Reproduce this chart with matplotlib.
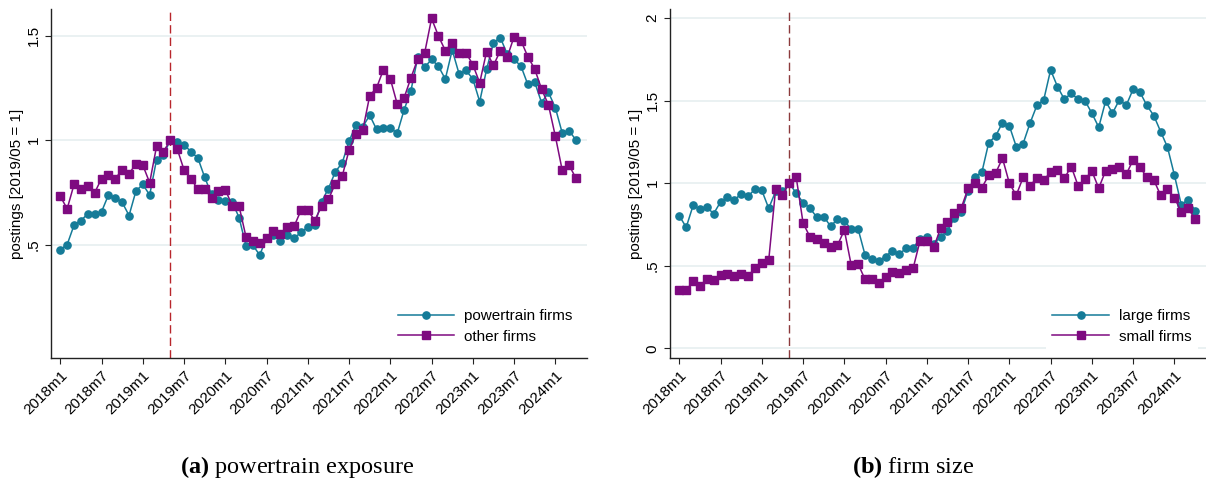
import matplotlib.pyplot as plt

plt.rcParams['font.family'] = ['Liberation Sans', 'DejaVu Sans']
plt.rcParams['mathtext.fontset'] = 'custom'
plt.rcParams['mathtext.rm'] = 'Liberation Serif'
plt.rcParams['mathtext.bf'] = 'Liberation Serif:bold'

# months since 2018m1, 2018m1 .. 2024m4
MONTHS = list(range(76))
TICK_POS = list(range(0, 73, 6))
TICK_LABELS = ["2018m1", "2018m7", "2019m1", "2019m7", "2020m1", "2020m7",
               "2021m1", "2021m7", "2022m1", "2022m7", "2023m1", "2023m7",
               "2024m1"]
BASE_MONTH = 16  # 2019m5

# panel a: powertrain exposure
POWERTRAIN = [0.476, 0.500, 0.593, 0.615, 0.647, 0.646, 0.657, 0.737, 0.723,
              0.702, 0.639, 0.756, 0.788, 0.737, 0.907, 0.928, 1.000, 0.989,
              0.978, 0.944, 0.915, 0.822, 0.740, 0.715, 0.710, 0.705, 0.629,
              0.495, 0.497, 0.450, 0.530, 0.545, 0.516, 0.546, 0.529, 0.559,
              0.583, 0.595, 0.705, 0.768, 0.848, 0.891, 0.994, 1.074, 1.064,
              1.119, 1.051, 1.059, 1.059, 1.032, 1.144, 1.237, 1.397, 1.349,
              1.386, 1.353, 1.292, 1.431, 1.317, 1.333, 1.293, 1.184, 1.338,
              1.466, 1.490, 1.412, 1.386, 1.354, 1.266, 1.277, 1.179, 1.228,
              1.155, 1.034, 1.045, 1.000]
OTHER = [0.731, 0.671, 0.788, 0.768, 0.782, 0.748, 0.816, 0.835, 0.816,
         0.857, 0.840, 0.885, 0.880, 0.796, 0.970, 0.944, 1.000, 0.958,
         0.857, 0.816, 0.764, 0.768, 0.721, 0.758, 0.763, 0.686, 0.684,
         0.538, 0.516, 0.506, 0.529, 0.566, 0.551, 0.582, 0.587, 0.663,
         0.665, 0.615, 0.683, 0.716, 0.792, 0.827, 0.952, 1.029, 1.048,
         1.212, 1.250, 1.337, 1.293, 1.173, 1.202, 1.298, 1.389, 1.418,
         1.582, 1.498, 1.428, 1.465, 1.418, 1.418, 1.361, 1.274, 1.423,
         1.357, 1.428, 1.396, 1.495, 1.476, 1.399, 1.340, 1.244, 1.168,
         1.019, 0.856, 0.880, 0.817]

# panel b: firm size
LARGE = [0.802, 0.733, 0.865, 0.844, 0.853, 0.816, 0.887, 0.915, 0.897,
         0.937, 0.921, 0.964, 0.956, 0.848, 0.950, 0.950, 1.000, 0.939,
         0.883, 0.848, 0.794, 0.798, 0.739, 0.782, 0.768, 0.725, 0.723,
         0.567, 0.539, 0.531, 0.555, 0.592, 0.569, 0.608, 0.608, 0.662,
         0.674, 0.634, 0.674, 0.713, 0.790, 0.828, 0.955, 1.038, 1.066,
         1.246, 1.285, 1.367, 1.347, 1.222, 1.240, 1.363, 1.471, 1.505,
         1.686, 1.585, 1.508, 1.545, 1.508, 1.499, 1.424, 1.339, 1.497,
         1.424, 1.505, 1.472, 1.569, 1.551, 1.471, 1.410, 1.313, 1.218,
         1.050, 0.870, 0.901, 0.834]
SMALL = [0.352, 0.352, 0.406, 0.378, 0.420, 0.412, 0.442, 0.448, 0.438,
         0.448, 0.438, 0.485, 0.515, 0.533, 0.964, 0.929, 1.000, 1.036,
         0.758, 0.675, 0.663, 0.638, 0.612, 0.624, 0.716, 0.504, 0.511,
         0.418, 0.418, 0.394, 0.430, 0.462, 0.454, 0.474, 0.484, 0.650,
         0.650, 0.612, 0.727, 0.763, 0.818, 0.850, 0.969, 1.000, 0.973,
         1.048, 1.061, 1.151, 1.000, 0.927, 1.035, 0.986, 1.030, 1.020,
         1.066, 1.079, 1.030, 1.101, 0.984, 1.024, 1.073, 0.970, 1.075,
         1.085, 1.097, 1.054, 1.141, 1.097, 1.036, 1.020, 0.927, 0.963,
         0.913, 0.826, 0.850, 0.781]

TEAL = '#157b98'
PURPLE = '#7e0a80'
GRID = '#e8f0f1'


def draw_panel(ax, first, second, labels, yticks, ytick_labels, ylim,
               vline_color):
    """Draw one Stata-looking panel with two series."""
    for y in yticks:
        ax.axhline(y, color=GRID, lw=1.3, zorder=0)
    ax.axvline(BASE_MONTH, color=vline_color, lw=1.0, ls=(0, (6, 3)),
               zorder=1)
    ax.plot(MONTHS, first, color=TEAL, lw=1.1, marker='o', ms=5.2,
            label=labels[0], zorder=3)
    ax.plot(MONTHS, second, color=PURPLE, lw=1.1, marker='s', ms=5.6,
            label=labels[1], zorder=3)

    ax.set_xlim(-1.35, 76.6)
    ax.set_ylim(*ylim)
    ax.set_xticks(TICK_POS)
    ax.set_xticklabels(TICK_LABELS, rotation=45, ha='right',
                       rotation_mode='anchor', fontsize=11)
    ax.set_yticks(yticks)
    ax.set_yticklabels(ytick_labels, rotation=90, va='center', fontsize=11)
    ax.tick_params(axis='both', length=4.5, width=0.8, color='#222222',
                   pad=3)
    ax.set_ylabel("postings [2019/05 = 1]", fontsize=11, labelpad=2)
    for side in ['top', 'right']:
        ax.spines[side].set_visible(False)
    for side in ['left', 'bottom']:
        ax.spines[side].set_linewidth(1.0)
        ax.spines[side].set_color('#222222')

    leg = ax.legend(loc='lower right', fontsize=11, handlelength=3.7,
                    handletextpad=0.65, labelspacing=0.42, borderpad=0.45,
                    borderaxespad=0.5, framealpha=1, fancybox=False)
    leg.get_frame().set_linewidth(0)
    leg.set_zorder(5)


fig = plt.figure(figsize=(12.06, 4.84), dpi=100)
ax_a = fig.add_axes([0.0423, 0.2603, 0.4444, 0.7210])
ax_b = fig.add_axes([0.5556, 0.2603, 0.4444, 0.7210])

draw_panel(ax_a, POWERTRAIN, OTHER, ["powertrain firms", "other firms"],
           [0.5, 1.0, 1.5], [".5", "1", "1.5"], (-0.043, 1.627), '#b8262c')
draw_panel(ax_b, LARGE, SMALL, ["large firms", "small firms"],
           [0, 0.5, 1.0, 1.5, 2.0], ["0", ".5", "1", "1.5", "2"],
           (-0.059, 2.055), '#8c3a3c')

fig.text(0.246, 0.022, r"$\mathbf{(a)}$ powertrain exposure", ha='center',
         fontsize=17.5, family='Liberation Serif')
fig.text(0.757, 0.022, r"$\mathbf{(b)}$ firm size", ha='center',
         fontsize=17.5, family='Liberation Serif')

plt.savefig('out.png', dpi=100)
